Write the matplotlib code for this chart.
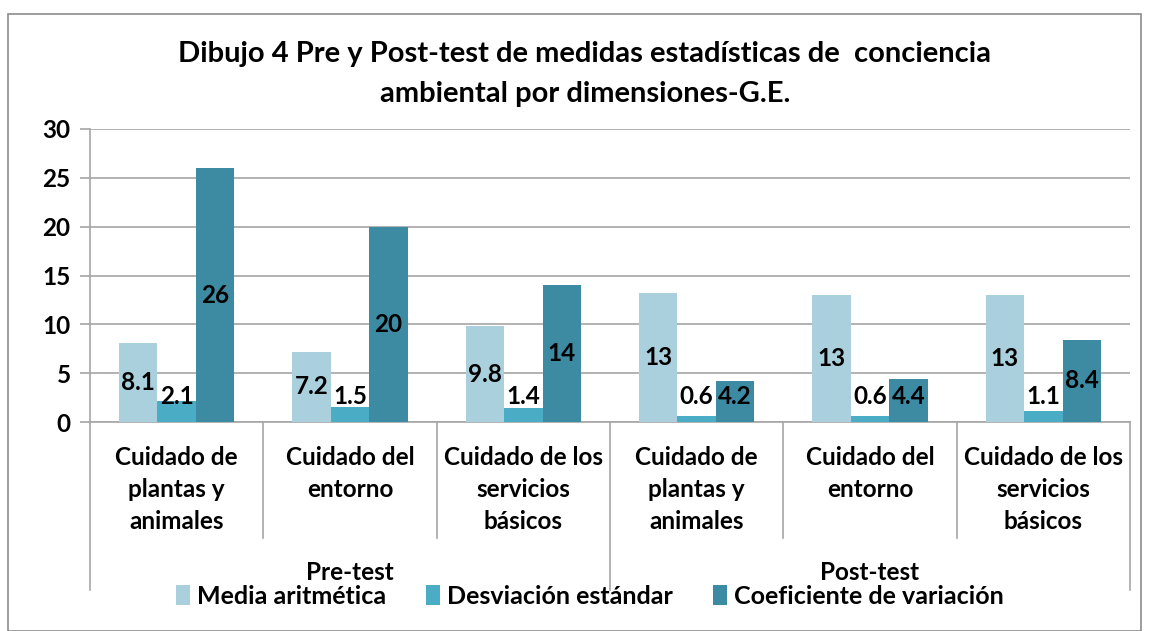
import matplotlib
matplotlib.use("Agg")
import matplotlib.pyplot as plt
from matplotlib.patches import Rectangle, Patch
from matplotlib.lines import Line2D
import numpy as np

plt.rcParams['font.family'] = ['Lato', 'DejaVu Sans']
plt.rcParams['font.weight'] = 'bold'

categories = ["Cuidado de\nplantas y\nanimales", "Cuidado del\nentorno", "Cuidado de los\nservicios\nbásicos",
              "Cuidado de\nplantas y\nanimales", "Cuidado del\nentorno", "Cuidado de los\nservicios\nbásicos"]
groups = ["Pre-test", "Post-test"]
series_names = ["Media aritmética", "Desviación estándar", "Coeficiente de variación"]
media = [8.1, 7.2, 9.8, 13.2, 13.0, 13.0]
desv = [2.1, 1.5, 1.4, 0.6, 0.6, 1.1]
coef = [26, 20, 14, 4.2, 4.4, 8.4]
media_lbl = ["8.1", "7.2", "9.8", "13", "13", "13"]
desv_lbl = ["2.1", "1.5", "1.4", "0.6", "0.6", "1.1"]
coef_lbl = ["26", "20", "14", "4.2", "4.4", "8.4"]
colors = ["#AACFDD", "#4BACC6", "#3D8BA3"]
yticks = [0, 5, 10, 15, 20, 25, 30]

FS = 17.5
W, H = 1149, 631
fig = plt.figure(figsize=(W / 100, H / 100), dpi=100)
fig.patches.append(Rectangle((8 / W, 0), (1141 - 8) / W, (631 - 14) / H, transform=fig.transFigure,
                             fill=False, edgecolor="#8C8C8C", linewidth=1.2))

ax_l, ax_r, ax_b, ax_t = 90, 1130, 422, 129
ax = fig.add_axes([ax_l / W, (H - ax_b) / H, (ax_r - ax_l) / W, (ax_b - ax_t) / H])

n = len(categories)
x = np.arange(n)
bw = 0.222
for i, (vals, lbls) in enumerate(zip([media, desv, coef], [media_lbl, desv_lbl, coef_lbl])):
    xs = x + (i - 1) * bw
    ax.bar(xs, vals, width=bw, color=colors[i], zorder=3, label=series_names[i])
    for xx, v, l in zip(xs, vals, lbls):
        ax.text(xx, max(v / 2, 2.6), l, ha="center", va="center", fontsize=FS, fontweight="bold",
                color="black", zorder=4)

ax.set_xlim(-0.5, n - 0.5)
ax.set_ylim(0, 30)
ax.set_yticks(yticks)
ax.set_yticklabels([str(t) for t in yticks], fontsize=FS, fontweight="bold")
ax.yaxis.grid(True, color="#A6A6A6", linewidth=1.2, zorder=0)
ax.set_xticks([])
for s in ["top", "right"]:
    ax.spines[s].set_visible(False)
ax.spines["left"].set_color("#A6A6A6")
ax.spines["bottom"].set_color("#A6A6A6")
ax.spines["left"].set_linewidth(1.2)
ax.spines["bottom"].set_linewidth(1.2)
ax.tick_params(axis="y", length=7, color="#A6A6A6", width=1.2, pad=7)

trans = ax.get_xaxis_transform()
def ypix(p):
    return (ax_b - p) / (ax_b - ax_t)  # axis fraction for pixel row p
for k in range(n + 1):
    xpos = k - 0.5
    bottom = 590 if k in (0, 3, 6) else 538
    ax.add_line(Line2D([xpos, xpos], [0, ypix(bottom)], transform=trans, color="#A6A6A6",
                       linewidth=1.2, clip_on=False))
for k, c in enumerate(categories):
    ax.text(k, ypix(446), c, transform=trans, ha="center", va="top", fontsize=FS,
            fontweight="bold", linespacing=1.48)
for g, name in enumerate(groups):
    ax.text(g * 3 + 1, ypix(572), name, transform=trans, ha="center", va="center",
            fontsize=FS, fontweight="bold")

fig.text(585 / W, 1 - 54 / H, "Dibujo 4 Pre y Post-test de medidas estadísticas de  conciencia",
         ha="center", va="center", fontsize=21, fontweight="bold")
fig.text(585 / W, 1 - 94 / H, "ambiental por dimensiones-G.E.",
         ha="center", va="center", fontsize=21, fontweight="bold")

handles = [Patch(facecolor=c) for c in colors]
fig.legend(handles, series_names, loc="center", bbox_to_anchor=(590 / W, 1 - 596 / H), ncol=3,
           frameon=False, handlelength=0.55, handleheight=0.9, handletextpad=0.3,
           columnspacing=1.6, prop={'weight': 'bold', 'size': 18})

fig.savefig("out.png", dpi=100)
